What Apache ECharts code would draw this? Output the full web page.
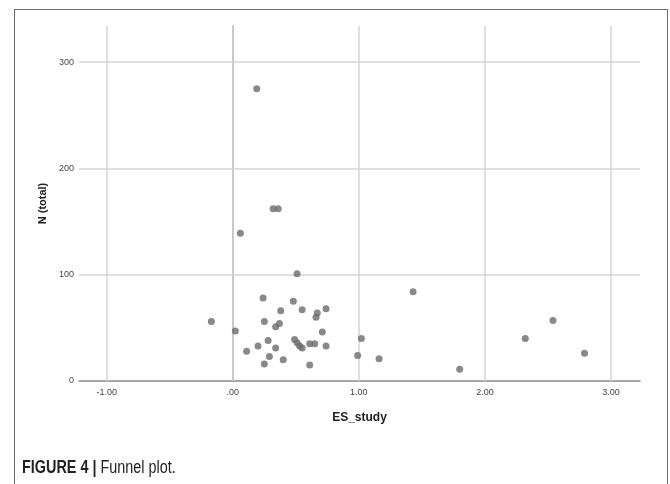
<!DOCTYPE html>
<html>
<head>
<meta charset="utf-8">
<script src="https://cdn.jsdelivr.net/npm/echarts@6/dist/echarts.min.js"></script>
<style>
  html, body { margin: 0; padding: 0; background: #fff; }
  #wrap { position: relative; width: 670px; height: 484px; overflow: hidden; }
  #frame { position: absolute; left: 14px; top: 9px; width: 654px; height: 500px; border: 1.5px solid #6e6e6e; box-sizing: border-box; }
  #chart { position: absolute; left: 0; top: 0; width: 670px; height: 484px; }
  #caption { position: absolute; left: 22px; top: 457px; font-family: "Liberation Sans", Arial, sans-serif; font-size: 18px; color: #222; white-space: nowrap; transform: scaleX(0.8); transform-origin: left top; }
  #caption b { font-weight: bold; }
</style>
</head>
<body>
<div id="wrap">
  <div id="frame"></div>
  <div id="chart"></div>
  <div id="caption"><b>FIGURE 4</b> <b>|</b> Funnel plot.</div>
</div>
<script>
// Data
const esStudy = [0.19, 0.32, 0.36, 0.06, 0.51, 1.43, 0.24, 0.48, 0.55, 0.74, 0.38, 0.67, 0.66, -0.17, 0.25, 0.37, 0.34, 2.54, 0.02, 0.71, 1.02, 2.32, 0.28, 0.49, 0.51, 0.53, 0.55, 0.61, 0.65, 0.74, 0.20, 0.34, 0.11, 2.79, 0.99, 0.29, 0.40, 1.16, 0.25, 0.61, 1.80];
const nTotal  = [275, 162, 162, 139, 101, 84, 78, 75, 67, 68, 66, 64, 60, 56, 56, 54, 51, 57, 47, 46, 40, 40, 38, 39, 36, 33, 31, 35, 35, 33, 33, 31, 28, 26, 24, 23, 20, 21, 16, 15, 11];
const xTicks = [-1, 0, 1, 2, 3];
const xTickLabels = ['-1.00', '.00', '1.00', '2.00', '3.00'];
const yTicks = [0, 100, 200, 300];
const yTickLabels = ['0', '100', '200', '300'];
const xRange = [-1.22, 3.23];
const yRange = [0, 334];

const points = esStudy.map((x, i) => [x, nTotal[i]]);
const gridColor = '#d4d4d4';
const labelFont = '"Liberation Sans Narrow", "Arial Narrow", "Liberation Sans", sans-serif';

const chart = echarts.init(document.getElementById('chart'), null, { renderer: 'canvas' });
chart.setOption({
  animation: false,
  grid: { left: 79, right: 30, top: 26, bottom: 103, containLabel: false },
  xAxis: {
    type: 'value', min: xRange[0], max: xRange[1],
    name: 'ES_study', nameLocation: 'middle', nameGap: 31,
    nameTextStyle: { fontFamily: 'Liberation Sans', fontWeight: 'bold', fontSize: 12, color: '#222' },
    axisLine: { show: true, lineStyle: { color: '#8a8a8a', width: 1.5 } },
    axisTick: { show: false },
    splitLine: { show: false },
    axisLabel: {
      customValues: xTicks,
      formatter: v => xTickLabels[xTicks.indexOf(Math.round(v))] ?? '',
      fontFamily: labelFont, fontSize: 9, color: '#444', margin: 7
    }
  },
  yAxis: {
    type: 'value', min: yRange[0], max: yRange[1],
    name: 'N (total)', nameLocation: 'middle', nameGap: 23, nameRotate: 90,
    nameTextStyle: { fontFamily: 'Liberation Sans', fontWeight: 'bold', fontSize: 11, color: '#222' },
    axisLine: { show: true, lineStyle: { color: '#8a8a8a', width: 1.5 } },
    axisTick: { show: false },
    splitLine: { show: false },
    axisLabel: {
      customValues: yTicks,
      formatter: v => yTickLabels[yTicks.indexOf(Math.round(v))] ?? '',
      fontFamily: labelFont, fontSize: 9, color: '#444', margin: 5
    }
  },
  series: [{
    type: 'scatter',
    data: [],
    silent: true,
    z: 1,
    markLine: {
      silent: true, symbol: 'none', label: { show: false },
      lineStyle: { color: gridColor, width: 1.5, type: 'solid' },
      data: xTicks.map(v => ({ xAxis: v })).concat(yTicks.filter(v => v > 0).map(v => ({ yAxis: v })))
    }
  }, {
    type: 'scatter',
    data: points,
    symbol: 'circle',
    symbolSize: 7,
    itemStyle: { color: '#6b6b6b' },
    z: 5
  }]
});
</script>
</body>
</html>
